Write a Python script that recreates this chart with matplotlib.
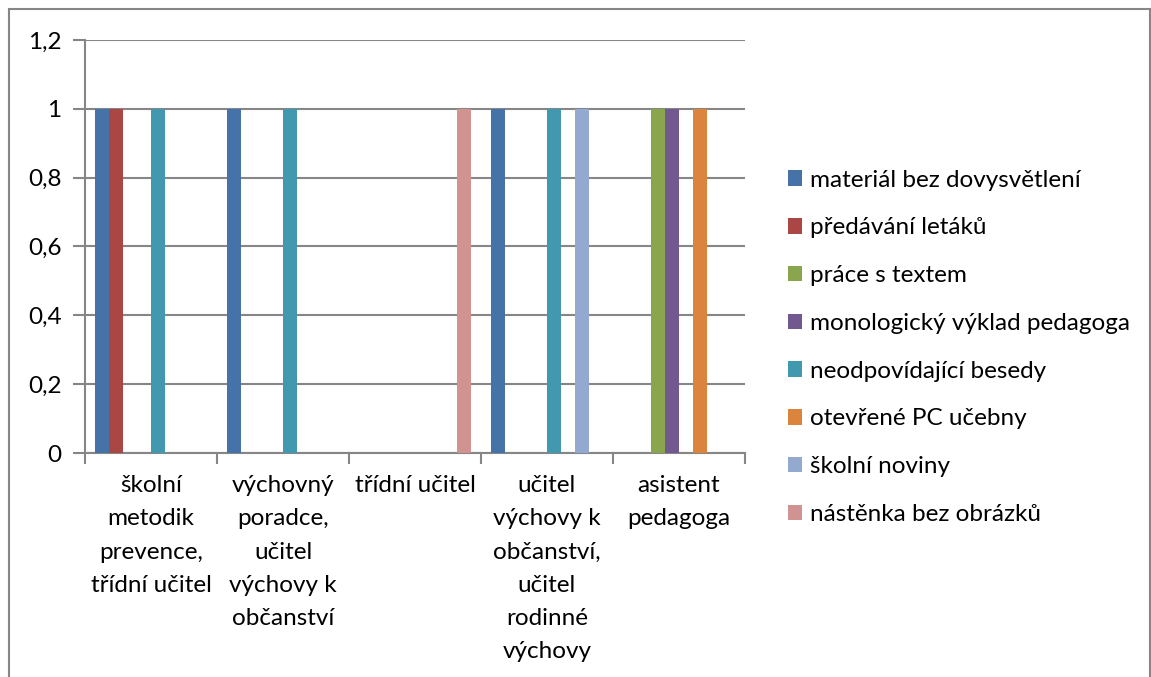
import numpy as np
import matplotlib.pyplot as plt
from matplotlib.patches import Rectangle

plt.rcParams['font.family'] = ['Lato', 'DejaVu Sans']

categories = ["školní\nmetodik\nprevence,\ntřídní učitel",
              "výchovný\nporadce,\nučitel\nvýchovy k\nobčanství",
              "třídní učitel",
              "učitel\nvýchovy k\nobčanství,\nučitel\nrodinné\nvýchovy",
              "asistent\npedagoga"]
series = ["materiál bez dovysvětlení", "předávání letáků", "práce s textem",
          "monologický výklad pedagoga", "neodpovídající besedy",
          "otevřené PC učebny", "školní noviny", "nástěnka bez obrázků"]
values = [
    [1, 1, 0, 1, 0],
    [1, 0, 0, 0, 0],
    [0, 0, 0, 0, 1],
    [0, 0, 0, 0, 1],
    [1, 1, 0, 1, 0],
    [0, 0, 0, 0, 1],
    [0, 0, 0, 1, 0],
    [0, 0, 1, 0, 0],
]
colors = ["#4572A7", "#AA4643", "#89A54E", "#71588F", "#4198AF",
          "#DB843D", "#93A9CF", "#D19392"]
yticks = [0, 0.2, 0.4, 0.6, 0.8, 1, 1.2]
ytick_labels = ["0", "0,2", "0,4", "0,6", "0,8", "1", "1,2"]

W, H = 1151, 677
fs = 17.5
fig = plt.figure(figsize=(W / 100, H / 100), dpi=100)
ax = fig.add_axes([85 / W, 1 - 453 / H, 660 / W, 413 / H])

fig.patches.append(Rectangle((9 / W, -0.1), 1141 / W, 1.1 - 9 / H,
                             transform=fig.transFigure, fill=False,
                             edgecolor="#868686", linewidth=1.5))

x = np.arange(len(categories))
n = len(series)
bw = 1 / (n + 1.5)
for i, (name, vals) in enumerate(zip(series, values)):
    ax.bar(x - 0.5 + 0.75 * bw + (i + 0.5) * bw, vals, width=bw,
           color=colors[i], label=name, zorder=3)

ax.set_xlim(-0.5, len(categories) - 0.5)
ax.set_ylim(0, 1.2)
ax.set_yticks(yticks)
ax.set_yticklabels(ytick_labels, fontsize=fs)
ax.yaxis.grid(True, color="#868686", linewidth=1.5, zorder=0)
ax.set_axisbelow(True)

ax.set_xticks(x)
ax.set_xticklabels(categories, fontsize=fs, linespacing=1.72, va="top")
ax.set_xticks(np.arange(len(categories) + 1) - 0.5, minor=True)
ax.tick_params(axis="x", which="major", length=0, pad=16)
ax.tick_params(axis="x", which="minor", length=8, width=1.5, color="#868686")
ax.tick_params(axis="y", length=9, width=1.5, color="#868686", pad=8)

for s in ["top", "right"]:
    ax.spines[s].set_visible(False)
for s in ["left", "bottom"]:
    ax.spines[s].set_color("#868686")
    ax.spines[s].set_linewidth(1.5)

handles, labels = ax.get_legend_handles_labels()
fig.legend(handles, labels, loc="upper left", bbox_to_anchor=(778 / W, 1 - 160 / H),
           frameon=False, fontsize=fs, handlelength=0.6, handleheight=0.6,
           handletextpad=0.3, labelspacing=1.1, borderaxespad=0)

fig.savefig("out.png", dpi=100, facecolor="white")
